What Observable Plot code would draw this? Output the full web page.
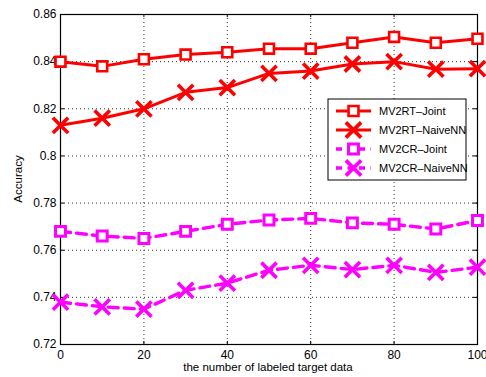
<!DOCTYPE html>
<html>
<head>
<meta charset="utf-8">
<script src="https://cdn.jsdelivr.net/npm/d3@7"></script>
<script src="https://cdn.jsdelivr.net/npm/@observablehq/plot@0.6"></script>
<style>
  html, body { margin: 0; padding: 0; background: #fff; }
  #chart { position: relative; width: 486px; height: 377px; }
  svg { font-family: "Liberation Sans", Arial, Helvetica, sans-serif; }
</style>
</head>
<body>
<div id="chart"></div>
<script>
const xValues = [0, 10, 20, 30, 40, 50, 60, 70, 80, 90, 100];
const seriesNames = ["MV2RT–Joint", "MV2RT–NaiveNN", "MV2CR–Joint", "MV2CR–NaiveNN"];
const mv2rtJoint   = [0.840, 0.838, 0.841, 0.843, 0.844, 0.8455, 0.8455, 0.848, 0.8505, 0.848, 0.8497];
const mv2rtNaiveNN = [0.813, 0.816, 0.820, 0.827, 0.829, 0.835, 0.836, 0.839, 0.840, 0.8368, 0.837];
const mv2crJoint   = [0.768, 0.766, 0.765, 0.768, 0.771, 0.7728, 0.7735, 0.7716, 0.771, 0.769, 0.7726];
const mv2crNaiveNN = [0.738, 0.736, 0.735, 0.743, 0.746, 0.7515, 0.7536, 0.7518, 0.7536, 0.7506, 0.7528];
const xTicks = [0, 20, 40, 60, 80, 100];
const yTicks = [0.72, 0.74, 0.76, 0.78, 0.8, 0.82, 0.84, 0.86];

const styles = [
  {color: "#ff0000", dash: null, symbol: "square"},
  {color: "#ff0000", dash: null, symbol: "times"},
  {color: "#ff00ff", dash: "10,6", symbol: "square"},
  {color: "#ff00ff", dash: "10,6", symbol: "times"}
];
const allValues = [mv2rtJoint, mv2rtNaiveNN, mv2crJoint, mv2crNaiveNN];
const data = allValues.map((vals, i) => vals.map((v, j) => ({x: xValues[j], y: v, s: seriesNames[i]})));

const marks = [
  Plot.ruleX(xTicks.slice(1, -1), {x: d => d, stroke: "#333", strokeDasharray: "1,3", strokeWidth: 1}),
  Plot.ruleY(yTicks.slice(1, -1), {y: d => d, stroke: "#333", strokeDasharray: "1,3", strokeWidth: 1}),
  Plot.axisX(xTicks, {tickSize: 0, tickPadding: 6, fontSize: 12, label: null, tickFormat: d => String(d)}),
  Plot.axisY(yTicks, {tickSize: 0, tickPadding: 4, fontSize: 12, label: null, tickFormat: d => String(d)}),
  // inward ticks on all four sides
  Plot.ruleX(xTicks, {x: d => d, y1: 0.72, y2: 0.7213, stroke: "#000"}),
  Plot.ruleX(xTicks, {x: d => d, y1: 0.8587, y2: 0.86, stroke: "#000"}),
  Plot.ruleY(yTicks, {y: d => d, x1: 0, x2: 1, stroke: "#000"}),
  Plot.ruleY(yTicks, {y: d => d, x1: 99, x2: 100, stroke: "#000"}),
  Plot.frame({stroke: "#000", strokeWidth: 1.2})
];
data.forEach((d, i) => {
  const st = styles[i];
  marks.push(Plot.line(d, {x: "x", y: "y", stroke: st.color, strokeWidth: st.dash ? 3.4 : 3, strokeDasharray: st.dash}));
  if (st.symbol === "square") {
    marks.push(Plot.dot(d, {x: "x", y: "y", symbol: "square", r: 5.6, stroke: st.color, strokeWidth: st.dash ? 3 : 2.6, fill: "white"}));
  } else {
    marks.push(Plot.dot(d, {x: "x", y: "y", symbol: "times", r: 7, stroke: st.color, strokeWidth: 3.6, fill: "none"}));
  }
});

const chart = Plot.plot({
  width: 486,
  height: 377,
  marginLeft: 60,
  marginRight: 9,
  marginTop: 14,
  marginBottom: 33,
  style: {fontFamily: "'Liberation Sans', Arial, Helvetica, sans-serif", fontSize: "12px", color: "#000", background: "#fff"},
  x: {domain: [0, 100]},
  y: {domain: [0.72, 0.86]},
  marks
});

const svg = d3.select(chart);
// axis titles
svg.append("text").attr("x", 268).attr("y", 371).attr("text-anchor", "middle")
  .attr("font-size", 11.5).attr("fill", "#000").text("the number of labeled target data");
svg.append("text").attr("transform", "translate(22,179) rotate(-90)").attr("text-anchor", "middle")
  .attr("font-size", 11.5).attr("fill", "#000").text("Accuracy");

// legend
const lg = svg.append("g").attr("text-anchor", "start");
lg.append("rect").attr("x", 328).attr("y", 99).attr("width", 138).attr("height", 81)
  .attr("fill", "white").attr("stroke", "#000").attr("stroke-width", 1);
const rowY = [111, 130, 149, 168];
const sqSym = d3.symbol().type(d3.symbolSquare).size(Math.PI * 5.6 * 5.6);
const xSym = d3.symbol().type(d3.symbolTimes).size(Math.PI * 7 * 7);
seriesNames.forEach((name, i) => {
  const st = styles[i];
  const y = rowY[i];
  lg.append("line").attr("x1", 336).attr("x2", 371).attr("y1", y).attr("y2", y)
    .attr("stroke", st.color).attr("stroke-width", st.dash ? 3.4 : 3).attr("stroke-dasharray", st.dash ? "6,5.5" : null);
  lg.append("path").attr("transform", `translate(353.5,${y})`)
    .attr("d", st.symbol === "square" ? sqSym() : xSym())
    .attr("stroke", st.color).attr("stroke-width", st.symbol === "square" ? (st.dash ? 3 : 2.6) : 3.6)
    .attr("fill", st.symbol === "square" ? "white" : "none");
  lg.append("text").attr("x", 379).attr("y", y + 4).attr("text-anchor", "start")
    .attr("font-size", 11).attr("fill", "#000").text(name);
});

document.getElementById("chart").appendChild(chart);
</script>
</body>
</html>
